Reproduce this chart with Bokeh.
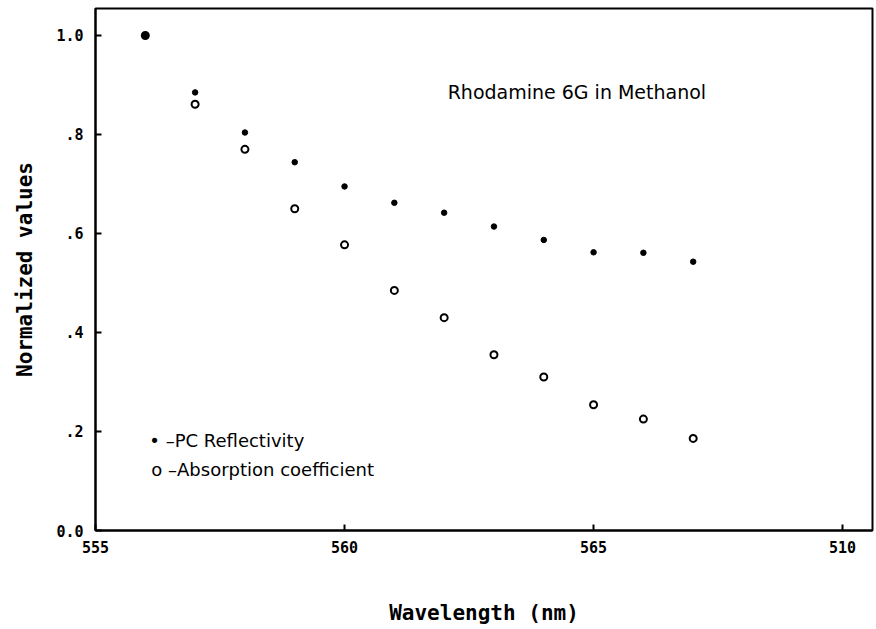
from bokeh.plotting import figure
from bokeh.models import Range1d, FixedTicker, Label
from bokeh.embed import file_html
from bokeh.resources import INLINE

wavelength = [556, 557, 558, 559, 560, 561, 562, 563, 564, 565, 566, 567]
pc_reflectivity = [1.0, 0.885, 0.804, 0.744, 0.695, 0.662, 0.642, 0.614, 0.587, 0.562, 0.561, 0.543]
absorption = [1.0, 0.861, 0.770, 0.650, 0.577, 0.485, 0.430, 0.355, 0.310, 0.254, 0.225, 0.186]

x_ticks = [555, 560, 565, 570]
x_tick_labels = ["555", "560", "565", "510"]
y_ticks = [0.0, 0.2, 0.4, 0.6, 0.8, 1.0]
y_tick_labels = ["0.0", ".2", ".4", ".6", ".8", "1.0"]

title_text = "Rhodamine 6G in Methanol"
legend_pc = "\u2022 \u2013PC Reflectivity"
legend_abs = "o \u2013Absorption coefficient"

MONO = "DejaVu Sans Mono"
SANS = "DejaVu Sans"

p = figure(width=876, height=629, output_backend="svg", toolbar_location=None,
           x_range=Range1d(555, 570.6), y_range=Range1d(0, 1.0545),
           min_border_left=95, min_border_right=4, min_border_top=8, min_border_bottom=99)

p.xgrid.visible = False
p.ygrid.visible = False
p.outline_line_color = "black"
p.outline_line_width = 2
p.outline_line_alpha = 1.0

for ax in (p.xaxis[0], p.yaxis[0]):
    ax.axis_line_width = 2
    ax.axis_line_color = "black"
    ax.major_tick_in = 6
    ax.major_tick_out = 0
    ax.major_tick_line_width = 2
    ax.minor_tick_line_color = None
    ax.major_label_text_font = MONO
    ax.major_label_text_font_style = "bold"
    ax.major_label_text_font_size = "15px"
    ax.major_label_text_color = "black"
    ax.axis_label_text_font = MONO
    ax.axis_label_text_font_style = "bold"
    ax.axis_label_text_font_size = "21px"
    ax.axis_label_text_color = "black"

p.xaxis.ticker = FixedTicker(ticks=x_ticks)
p.xaxis.major_label_overrides = {t: l for t, l in zip(x_ticks, x_tick_labels)}
p.yaxis.ticker = FixedTicker(ticks=y_ticks)
p.yaxis.major_label_overrides = {t: l for t, l in zip(y_ticks, y_tick_labels)}
p.xaxis.major_label_standoff = 10
p.yaxis.major_label_standoff = 12
p.xaxis.axis_label = "Wavelength (nm)"
p.yaxis.axis_label = "Normalized values"
p.xaxis.axis_label_standoff = 45
p.yaxis.axis_label_standoff = 16

p.scatter(wavelength, absorption, marker="circle", size=7, fill_color="white",
          line_color="black", line_width=2)
p.scatter(wavelength, pc_reflectivity, marker="circle", size=5.5, fill_color="black",
          line_color="black")

p.add_layout(Label(x=562.07, y=0.885, text=title_text, text_font=SANS,
                   text_font_size="19px", text_color="black", text_baseline="alphabetic"))
p.add_layout(Label(x=556.08, y=0.182, text=legend_pc, text_font=SANS,
                   text_font_size="18px", text_color="black", text_baseline="alphabetic"))
p.add_layout(Label(x=556.12, y=0.123, text=legend_abs, text_font=SANS,
                   text_font_size="18px", text_color="black", text_baseline="alphabetic"))

open("out.html", "w").write(file_html(p, INLINE))
